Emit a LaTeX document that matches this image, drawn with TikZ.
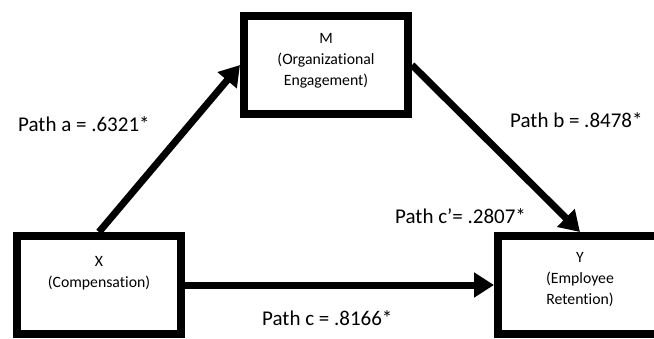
\documentclass[tikz,border=0pt]{standalone}
\usepackage{fontspec}
\setmainfont{Carlito}[Ligatures={NoCommon}]
\usetikzlibrary{arrows.meta}
\tikzset{
  varbox/.style={draw=black, line width=8pt, rectangle, inner sep=0pt,
    minimum width=164pt, minimum height=98pt},
  boxtext/.style={align=center, inner sep=0pt, anchor=base,
    font=\fontsize{15.75pt}{21pt}\selectfont},
  pathlabel/.style={inner sep=0pt, anchor=base west,
    font=\fontsize{21pt}{25pt}\selectfont},
  patharrow/.style={line width=7pt, -{Triangle[length=20pt,width=24pt]}}
}
\begin{document}
\begin{tikzpicture}[x=1pt,y=-1pt]
\useasboundingbox (0,0) rectangle (654,338);
\clip (0,0) rectangle (654,338);
\node[varbox] (X) at (99,285) {};
\node[varbox] (M) at (326,65) {};
\node[varbox] (Y) at (580,285) {};
\draw[patharrow] (X.north) -- (M.west);
\draw[patharrow] (M.east) -- (Y.north);
\draw[patharrow] (X.east) -- (Y.west);
\node[boxtext] (xt) at (99,287) {X\\(Compensation)};
\node[boxtext] (mt) at (326,85) {M\\(Organizational\\Engagement)};
\node[boxtext] (yt) at (580,304) {Y\\(Employee\\Retention)};
\node[pathlabel] (la) at (18,131) {Path a = .6321*};
\node[pathlabel] (lb) at (510,127) {Path b = .8478*};
\node[pathlabel] (lcp) at (395,223) {Path c’= .2807*};
\node[pathlabel] (lc) at (262,325) {Path c = .8166*};
\end{tikzpicture}
\end{document}
